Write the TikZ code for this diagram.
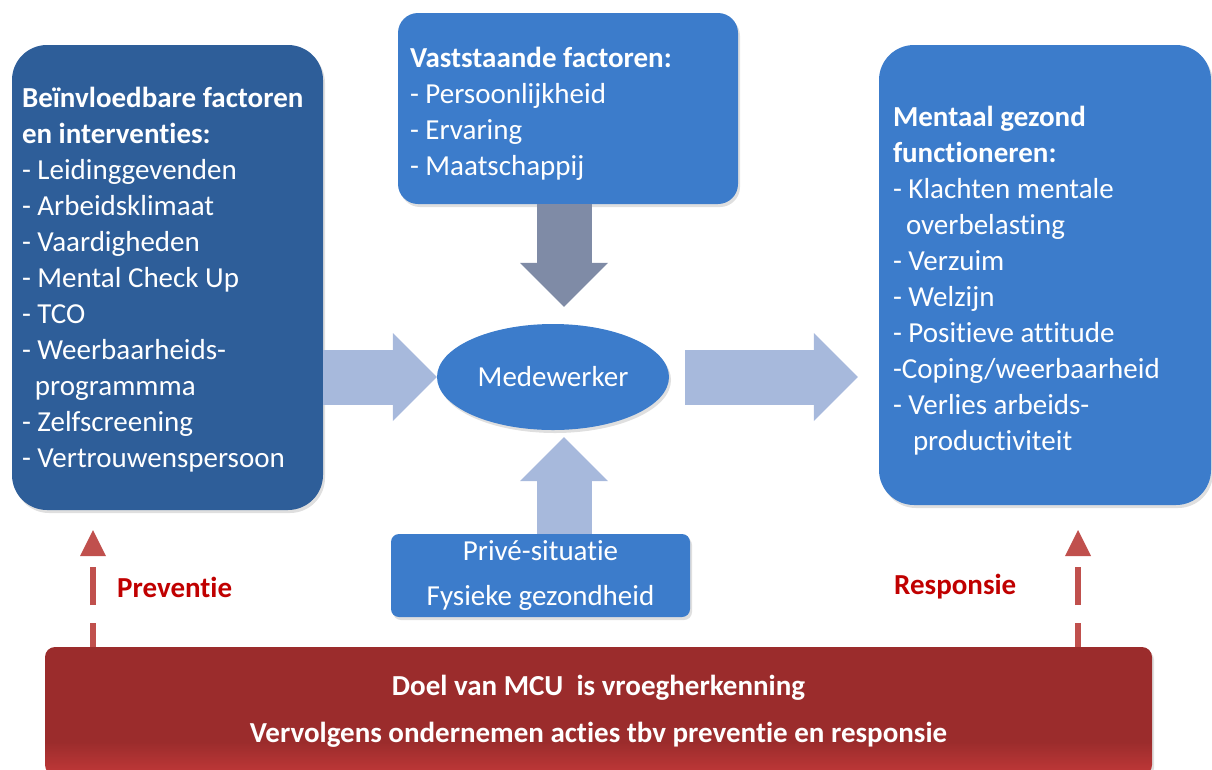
\documentclass[tikz,border=0pt]{standalone}
\usepackage{fontspec}
\setmainfont{Carlito}[Ligatures=NoCommon]
\usetikzlibrary{arrows.meta, shapes.geometric, shadows}

\definecolor{darkbox}{HTML}{2E5E99}
\definecolor{midbox}{HTML}{3C7CCB}
\definecolor{lightarrow}{HTML}{A7B9DC}
\definecolor{greyarrow}{HTML}{7F8BA6}
\definecolor{dashred}{HTML}{C0504D}
\definecolor{labelred}{HTML}{C00000}
\definecolor{bardark}{HTML}{9B2C2C}
\definecolor{barlight}{HTML}{CD3C3C}
\pgfdeclareverticalshading{redbar}{100bp}{color(0bp)=(barlight); color(21bp)=(barlight); color(38bp)=(bardark); color(100bp)=(bardark)}

\begin{document}
\begin{tikzpicture}[x=1pt, y=-1pt,
  every node/.style={text=white, font=\fontsize{29}{36}\selectfont},
  box/.style={inner ysep=0pt, align=flush left, drop shadow={opacity=0.25, shadow xshift=2pt, shadow yshift=-3pt}},
  fatarrow/.style={line width=55pt, -{Triangle[length=44pt, width=88pt, line width=0pt]}},
  dasharrow/.style={dashred, line width=6pt, dash pattern=on 38pt off 18pt, dash phase=14pt, -{Triangle[length=26pt, width=26pt, line width=0pt]}},
  sidelabel/.style={text=labelred, font=\bfseries\fontsize{29}{36}\selectfont, inner sep=0pt}]
  \useasboundingbox (0,0) rectangle (1212,769);
  \clip (0,0) rectangle (1212,769);

  % Nodes
  \node[box, fill=darkbox, rounded corners=35pt, minimum width=311pt, minimum height=465pt, text width=291pt, inner xsep=10pt] (infl) at (167.5,277.5)
    {\rule{0pt}{25pt}\textbf{Beïnvloedbare factoren}\\ \textbf{en interventies:}\\ - Leidinggevenden\\ - Arbeidsklimaat\\ - Vaardigheden\\ - Mental Check Up\\ - TCO\\ - Weerbaarheids-\\ \hspace*{13pt}programmma\\ - Zelfscreening\\ - Vertrouwenspersoon};
  \node[box, fill=midbox, rounded corners=20pt, minimum width=340pt, minimum height=191pt, text width=316pt, inner xsep=12pt] (vast) at (568,108.5)
    {\rule{0pt}{31pt}\textbf{Vaststaande factoren:}\\ - Persoonlijkheid\\ - Ervaring\\ - Maatschappij};
  \node[box, fill=midbox, rounded corners=35pt, minimum width=332pt, minimum height=460pt, text width=304pt, inner xsep=14pt] (ment) at (1045,275)
    {\rule{0pt}{31pt}\textbf{Mentaal gezond}\\ \textbf{functioneren:}\\ - Klachten mentale\\ \hspace*{13pt}overbelasting\\ - Verzuim\\ - Welzijn\\ - Positieve attitude\\ -Coping/weerbaarheid\\ - Verlies arbeids-\\ \hspace*{20pt}productiviteit};
  \node[ellipse, fill=midbox, inner sep=0pt, minimum width=232pt, minimum height=106pt, drop shadow={opacity=0.25, shadow xshift=2pt, shadow yshift=-3pt}] (mdw) at (553,377) {Medewerker};
  \node[box, fill=midbox, rounded corners=8pt, minimum width=299pt, minimum height=83pt, align=center, font=\fontsize{29}{45}\selectfont] (priv) at (540.5,575.5)
    {Privé-situatie\\ Fysieke gezondheid};
  \coordinate (vaxis) at (564,377);
  \coordinate (prevTip) at (93,530);
  \coordinate (respTip) at (1078,530);
  \node[sidelabel, anchor=west] (prevLbl) at (117,587) {Preventie};
  \node[sidelabel, anchor=west] (respLbl) at (894,587) {Responsie};

  % Edges
  \draw[fatarrow, lightarrow] (infl.east |- mdw.center) -- (mdw.west);
  \draw[fatarrow, lightarrow, shorten <=16pt, shorten >=21pt] (mdw.east) -- (ment.west |- mdw.center);
  \draw[fatarrow, greyarrow, shorten >=17pt] (vast.south -| vaxis) -- (vaxis |- mdw.north);
  \draw[fatarrow, lightarrow, shorten >=7pt] (priv.north -| vaxis) -- (vaxis |- mdw.south);
  \draw[dasharrow] (647,647 -| prevTip) -- (prevTip);
  \draw[dasharrow] (647,647 -| respTip) -- (respTip);

  \node[box, shading=redbar, rounded corners=10pt, minimum width=1107pt, minimum height=128pt, align=center, font=\bfseries\fontsize{29}{47}\selectfont] (doel) at (598.5,711)
    {Doel van MCU\ \ is vroegherkenning\\ Vervolgens ondernemen acties tbv preventie en responsie};
\end{tikzpicture}
\end{document}
